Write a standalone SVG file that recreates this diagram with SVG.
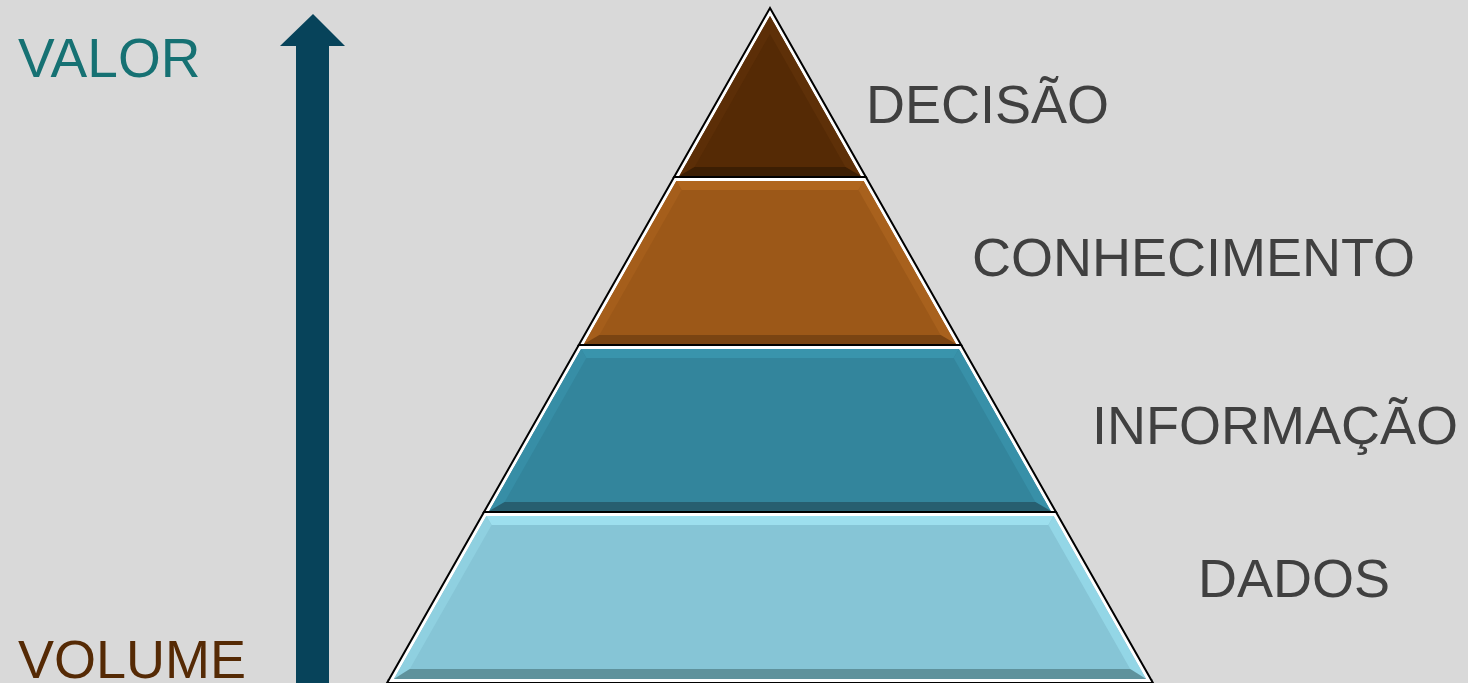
<svg xmlns="http://www.w3.org/2000/svg" width="1468" height="683" viewBox="0 0 1468 683">
<style>
.lbl{font-family:"Liberation Sans",Arial,sans-serif;font-size:54px;fill:#404040}
.outer{fill:#ffffff;stroke:#000000;stroke-width:2;stroke-linejoin:miter}
</style>
<rect x="0" y="0" width="1468" height="683" fill="#d9d9d9"/>
<g id="connectors">
<polygon points="313,14 345,46 329,46 329,683 296,683 296,46 280,46" fill="#07435a"/>
</g>
<g id="axis-labels">
<text x="18" y="77" class="lbl" style="fill:#167173;font-size:55px">VALOR</text>
<text x="18" y="678" class="lbl" style="fill:#552a05">VOLUME</text>
</g>
<g id="dados">
<rect x="387" y="679" width="766" height="4" fill="#a9a9a9"/>
<polygon class="outer" points="484,512 1056,512 1153,683 387,683"/>
<polygon points="486.4,516 1053.6,516 1146.1,679 393.9,679" fill="#86c5d6"/>
<polygon points="486.4,516 1053.6,516 1048.4,525 491.6,525" fill="#9ddfee"/>
<polygon points="486.4,516 491.6,525 409.8,669 393.9,679" fill="#8fd0e0"/>
<polygon points="1053.6,516 1048.4,525 1130.2,669 1146.1,679" fill="#93d6e6"/>
<polygon points="393.9,679 409.8,669 1130.2,669 1146.1,679" fill="#5f929c"/>
<text x="1198" y="597" class="lbl">DADOS</text>
</g>
<g id="informacao">
<polygon class="outer" points="578.8,345 961.2,345 1056,512 484,512"/>
<polygon points="581.1,349 958.9,349 1050.8,511 489.2,511" fill="#33859c"/>
<polygon points="581.1,349 958.9,349 953.7,358 586.3,358" fill="#3994ac"/>
<polygon points="581.1,349 586.3,358 504.6,502 489.2,511" fill="#378ea6"/>
<polygon points="958.9,349 953.7,358 1035.4,502 1050.8,511" fill="#3890a8"/>
<polygon points="489.2,511 504.6,502 1035.4,502 1050.8,511" fill="#275f70"/>
<text x="1092" y="444" class="lbl">INFORMAÇÃO</text>
</g>
<g id="conhecimento">
<polygon class="outer" points="674.1,177 865.9,177 961.2,345 578.8,345"/>
<polygon points="676.4,181 863.6,181 956,344 584,344" fill="#9c5818"/>
<polygon points="676.4,181 863.6,181 858.4,190 681.6,190" fill="#b0661e"/>
<polygon points="676.4,181 681.6,190 599.4,335 584,344" fill="#a55e1b"/>
<polygon points="863.6,181 858.4,190 940.6,335 956,344" fill="#a8611d"/>
<polygon points="584,344 599.4,335 940.6,335 956,344" fill="#7a4412"/>
<text x="972" y="276" class="lbl">CONHECIMENTO</text>
</g>
<g id="decisao">
<polygon class="outer" points="770,8 865.9,177 674.1,177"/>
<polygon points="770,16 860.7,176 679.3,176" fill="#552a05"/>
<polygon points="770,16 770,34 694.6,167 679.3,176" fill="#5c2e07"/>
<polygon points="770,16 770,34 845.4,167 860.7,176" fill="#5e3008"/>
<polygon points="679.3,176 694.6,167 845.4,167 860.7,176" fill="#3c1e03"/>
<text x="866" y="123" class="lbl">DECISÃO</text>
</g>
</svg>
